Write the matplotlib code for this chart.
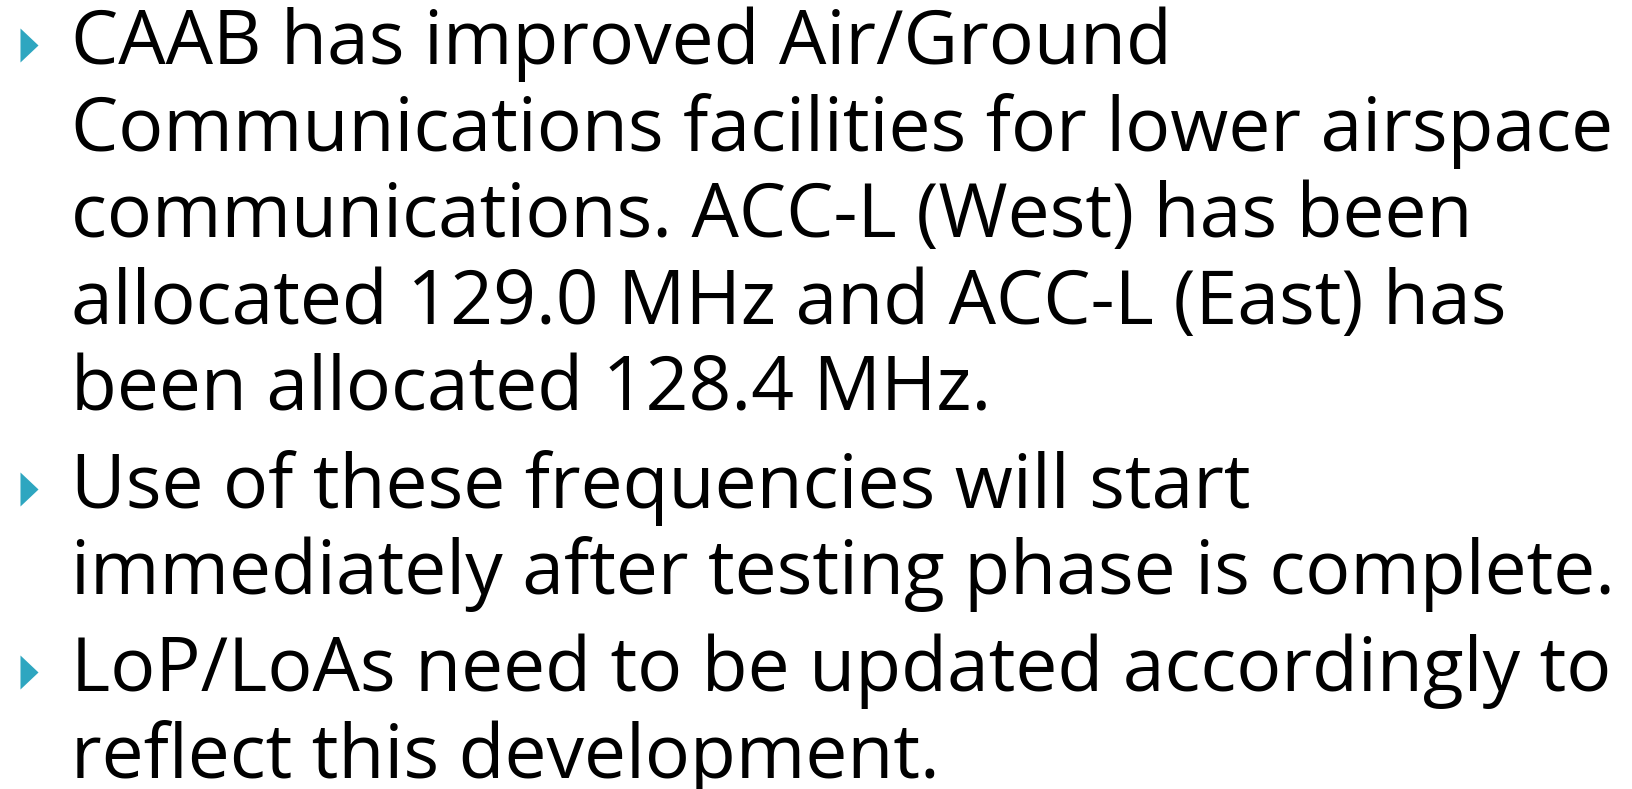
import matplotlib
matplotlib.use("Agg")
import matplotlib.pyplot as plt

# 幻灯片文字：每个要点拆成若干行
bullets = [
    ["CAAB has improved Air/Ground",
     "Communications facilities for lower airspace",
     "communications. ACC-L (West) has been",
     "allocated 129.0 MHz and ACC-L (East) has",
     "been allocated 128.4 MHz."],
    ["Use of these frequencies will start",
     "immediately after testing phase is complete."],
    ["LoP/LoAs need to be updated accordingly to",
     "reflect this development."],
]

W, H = 1633, 789
fig = plt.figure(figsize=(W / 100, H / 100), dpi=100)
ax = fig.add_axes([0, 0, 1, 1])
ax.set_xlim(0, W)
ax.set_ylim(H, 0)
ax.axis("off")

line_h = 86.7     # 行距 (px)
gap = 10          # 要点之间额外间距
text_x = 71
first_base = 64

# 三角形项目符号
tri = [(-0.53, -1), (-0.53, 1), (0.53, 0)]

y = first_base
for lines in bullets:
    ax.scatter([29], [y - 19], marker=tri, s=24.5 ** 2, color="#2ea6c0",
               linewidths=0)
    for ln in lines:
        ax.text(text_x, y, ln, fontsize=54, family="Open Sans",
                color="black", va="baseline", ha="left")
        y += line_h
    y += gap

fig.savefig("out.png", dpi=100)
